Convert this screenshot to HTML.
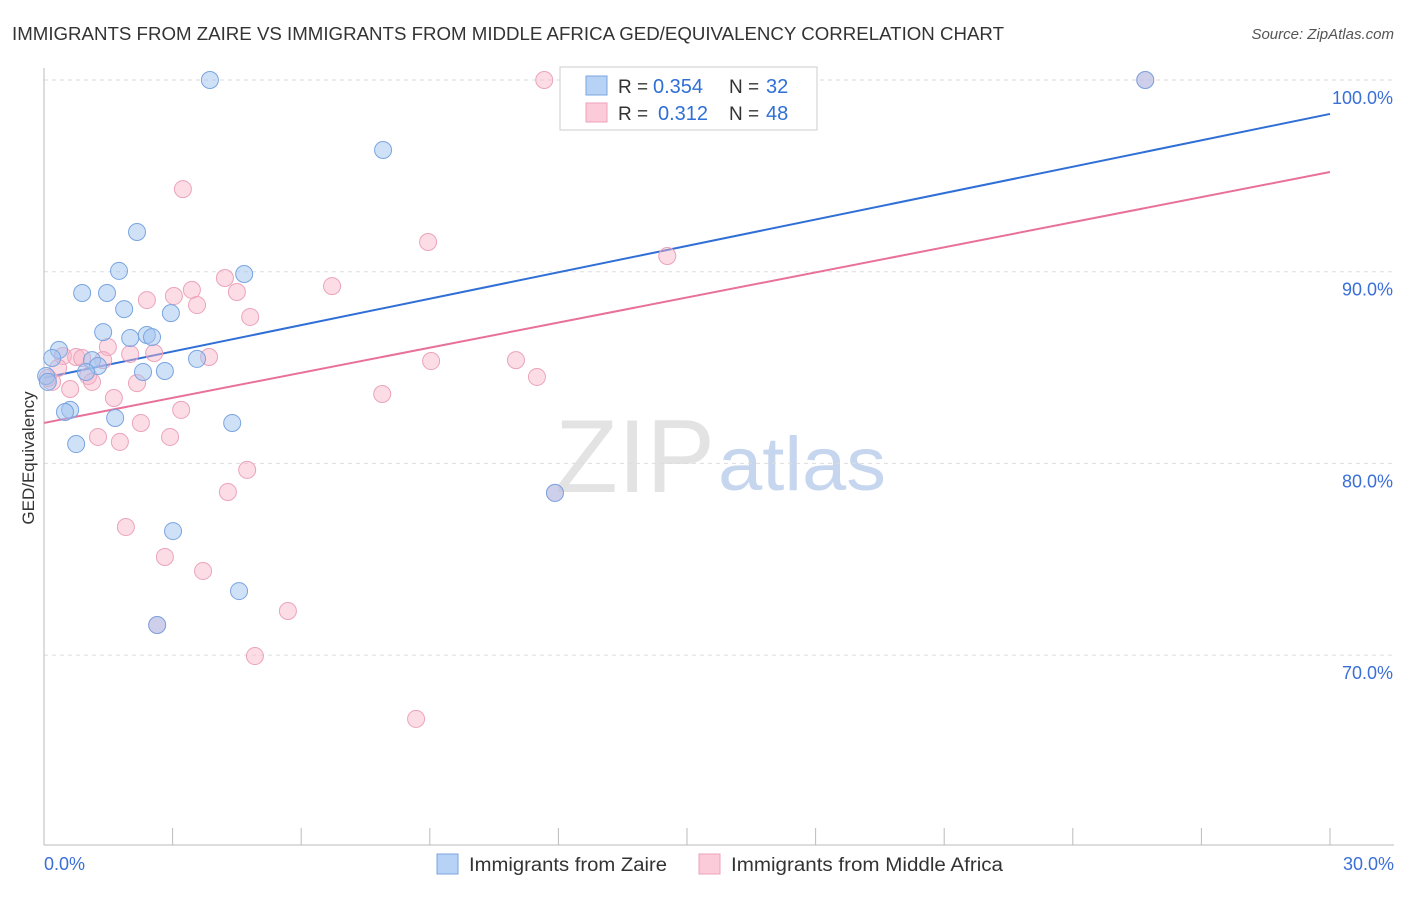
<!DOCTYPE html>
<html><head><meta charset="utf-8"><style>
body{margin:0;background:#fff;font-family:"Liberation Sans",sans-serif;}
svg text{font-family:"Liberation Sans",sans-serif;}
</style></head><body>
<svg id="chart" width="1406" height="892" xmlns="http://www.w3.org/2000/svg">
<text x="12" y="40" font-size="18" fill="#333" textLength="992" lengthAdjust="spacingAndGlyphs">IMMIGRANTS FROM ZAIRE VS IMMIGRANTS FROM MIDDLE AFRICA GED/EQUIVALENCY CORRELATION CHART</text>
<text x="1394" y="39" font-size="15" fill="#555" text-anchor="end" font-style="italic">Source: ZipAtlas.com</text>
<text transform="translate(34,458) rotate(-90)" font-size="17" fill="#333" text-anchor="middle">GED/Equivalency</text>
<text x="555" y="492" font-size="104" fill="#ddd" font-family="Liberation Serif" opacity="0.8" textLength="160" lengthAdjust="spacingAndGlyphs">ZIP</text>
<text x="718" y="490" font-size="76" fill="#c6d6ee" textLength="168" lengthAdjust="spacingAndGlyphs">atlas</text>
<g id="grid"></g><g id="axes"></g><g id="trend"></g><g id="pts"></g>
<g>
<rect x="560" y="67" width="257" height="63" fill="#fff" stroke="#ccc"/>
<rect x="586" y="76" width="21" height="19" fill="#b8d2f5" stroke="#7aa4e0"/>
<rect x="586" y="103" width="21" height="19" fill="#fbcbd9" stroke="#eda0b8"/>
<text x="618" y="93" font-size="19" fill="#333">R =</text>
<text x="653" y="93" font-size="20" fill="#2f6fd6">0.354</text>
<text x="729" y="93" font-size="19" fill="#333">N =</text>
<text x="766" y="93" font-size="20" fill="#2f6fd6">32</text>
<text x="618" y="120" font-size="19" fill="#333">R =</text>
<text x="658" y="120" font-size="20" fill="#2f6fd6">0.312</text>
<text x="729" y="120" font-size="19" fill="#333">N =</text>
<text x="766" y="120" font-size="20" fill="#2f6fd6">48</text>
</g>
<g>
<rect x="437" y="854" width="21" height="20" fill="#b8d2f5" stroke="#7aa4e0"/>
<text x="469" y="871" font-size="19" fill="#333" textLength="198" lengthAdjust="spacingAndGlyphs">Immigrants from Zaire</text>
<rect x="699" y="854" width="21" height="20" fill="#fbcbd9" stroke="#eda0b8"/>
<text x="731" y="871" font-size="19" fill="#333" textLength="272" lengthAdjust="spacingAndGlyphs">Immigrants from Middle Africa</text>
</g>
</svg>
<script>
const yTicks=[70,80,90,100];
const yTickLabels=["70.0%","80.0%","90.0%","100.0%"];
const xTickCount=10;
const zaireX=[3.87,7.91,2.17,1.75,4.67,0.89,1.47,1.87,2.96,1.38,2.01,2.40,2.52,0.35,0.19,1.12,1.26,3.57,0.98,2.31,2.82,0.05,0.09,0.61,0.49,1.66,4.39,0.75,3.01,4.55,2.64,11.92,25.69];
const zaireY=[100,96.35,92.07,90.04,89.88,88.89,88.89,88.05,87.84,86.85,86.54,86.70,86.59,85.92,85.50,85.39,85.08,85.45,84.77,84.77,84.82,84.56,84.25,82.79,82.68,82.37,82.11,81.01,76.47,73.34,71.57,78.46,100];
const maX=[11.67,25.69,3.24,8.96,14.54,4.22,6.72,3.45,4.50,3.03,2.40,3.57,4.81,1.49,0.44,0.75,0.89,2.01,2.57,3.85,1.38,9.03,11.01,0.33,1.03,1.12,0.19,11.50,2.17,0.61,7.89,1.63,3.20,2.26,1.26,2.94,1.77,4.74,4.29,11.92,1.91,2.82,3.71,5.69,2.64,4.92,8.68,0.09];
const maY=[100,100,94.31,91.55,90.82,89.67,89.25,89.05,88.94,88.73,88.52,88.26,87.64,86.07,85.60,85.55,85.50,85.71,85.76,85.55,85.39,85.34,85.39,84.98,84.56,84.25,84.25,84.51,84.19,83.88,83.62,83.41,82.79,82.11,81.38,81.38,81.12,79.66,78.51,78.46,76.68,75.12,74.39,72.30,71.57,69.95,66.67,84.46];
const zaireTrend=[84.46,98.23];
const maTrend=[82.11,95.20];
const NS="http://www.w3.org/2000/svg";
const X=v=>44+v/30*1286;
const Y=v=>80+(100-v)*19.17;
function mk(t,a,p){const e=document.createElementNS(NS,t);for(const k in a)e.setAttribute(k,a[k]);document.getElementById(p).appendChild(e);return e;}
yTicks.forEach((t,i)=>{
 const l=mk('line',{x1:44,x2:1394,y1:Y(t),y2:Y(t),stroke:'#ddd','stroke-dasharray':'4,4'},'grid');
 
 
 const tx=mk('text',{x:1393,y:Y(t)+24,'font-size':18,fill:'#3a6fd8','text-anchor':'end'},'grid');
 
 
 tx.textContent=yTickLabels[i];
});
const ya=mk('line',{x1:44,x2:44,y1:68,y2:845,stroke:'#bbb'},'axes');


const xa=mk('line',{x1:44,x2:1394,y1:845,y2:845,stroke:'#bbb'},'axes');


for(let i=0;i<=xTickCount;i++){const v=i*30/xTickCount;const t=mk('line',{x1:X(v),x2:X(v),y1:828,y2:845,stroke:'#bbb'},'axes');
 
 }
const x0=mk('text',{x:44,y:870,'font-size':18,fill:'#3a6fd8'},'axes');x0.textContent='0.0%';


const x1=mk('text',{x:1394,y:870,'font-size':18,fill:'#3a6fd8','text-anchor':'end'},'axes');x1.textContent='30.0%';


const tb=mk('line',{x1:X(0),y1:Y(zaireTrend[0]),x2:X(30),y2:Y(zaireTrend[1]),stroke:'#2f6fd6','stroke-width':2},'trend');


const tp=mk('line',{x1:X(0),y1:Y(maTrend[0]),x2:X(30),y2:Y(maTrend[1]),stroke:'#e8709a','stroke-width':2},'trend');


maX.forEach((v,i)=>{const c=mk('circle',{cx:X(v),cy:Y(maY[i]),r:8.5,fill:'rgba(248,180,200,0.45)',stroke:'#eba3bb','stroke-width':1},'pts');
 
 });
zaireX.forEach((v,i)=>{const c=mk('circle',{cx:X(v),cy:Y(zaireY[i]),r:8.5,fill:'rgba(160,195,240,0.5)',stroke:'#7aa4e0','stroke-width':1},'pts');
 
 });
</script>
</body></html>
